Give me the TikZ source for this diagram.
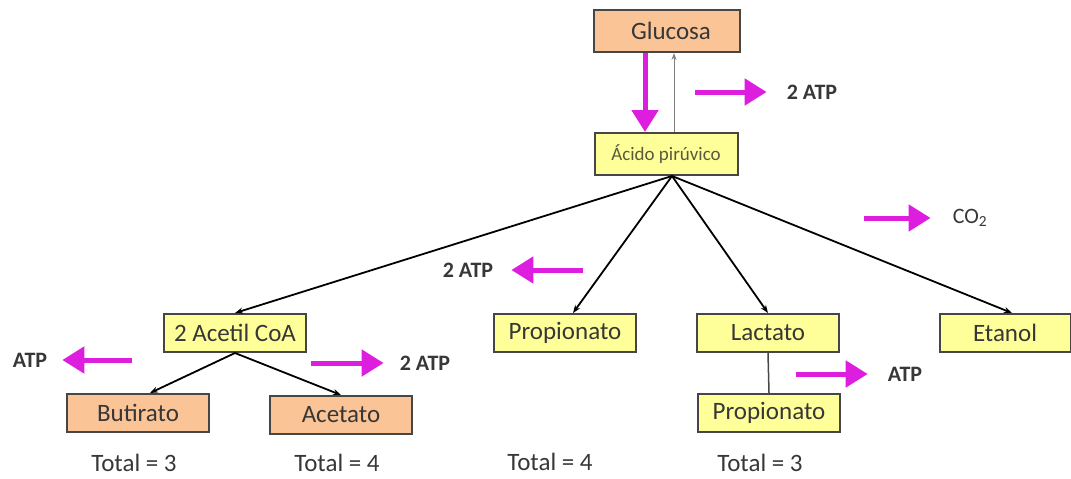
\documentclass[tikz,border=0pt]{standalone}
\usepackage{fontspec}
\setmainfont{Carlito}
\usetikzlibrary{arrows.meta}
\definecolor{boxyellow}{RGB}{255,255,153}
\definecolor{boxorange}{RGB}{250,196,150}
\definecolor{atpmagenta}{RGB}{222,30,222}
\definecolor{boxline}{RGB}{70,70,70}
\definecolor{txtgray}{RGB}{55,55,55}
\tikzstyle{yellowbox}=[draw=boxline,line width=2pt,fill=boxyellow,minimum width=142pt,minimum height=38pt,inner sep=2pt,text=txtgray,font=\fontsize{25}{28}\selectfont]
\tikzstyle{orangebox}=[yellowbox,fill=boxorange]
\tikzstyle{energy}=[atpmagenta,line width=5pt,-{Triangle[length=22pt,width=26pt]}]
\tikzstyle{branch}=[black,line width=1.8pt,-{Stealth[length=8pt,width=6pt]}]
\tikzstyle{gain}=[inner sep=0pt,text=txtgray,font=\bfseries\fontsize{22}{24}\selectfont]
\tikzstyle{total}=[inner sep=0pt,text=txtgray,font=\fontsize{25}{28}\selectfont]

\begin{document}
\begin{tikzpicture}[x=1pt,y=-1pt]
  \useasboundingbox (0,0) rectangle (1071,479);
  % boxes
  \node [orangebox,minimum width=146pt,minimum height=42pt] (glucosa) at (667,31) {\hspace{8pt}Glucosa};
  \node [yellowbox,minimum width=143pt,minimum height=42pt,font=\fontsize{19}{22}\selectfont,text={rgb,255:red,90;green,90;blue,60}] (acido) at (666,154) {Ácido pirúvico};
  \node [yellowbox] (acetil) at (235,333) {2 Acetil CoA};
  \node [yellowbox] (propA) at (565,333) {Propionato};
  \node [yellowbox] (lactato) at (768,333) {Lactato};
  \node [yellowbox,minimum width=131pt] (etanol) at (1005,333) {Etanol};
  \node [orangebox] (butirato) at (138,413) {Butirato};
  \node [orangebox] (acetato) at (341,415) {Acetato};
  \node [yellowbox] (propB) at (769,413) {Propionato};
  % totals
  \node [total] (totA) at (134,463) {Total = 3};
  \node [total] (totB) at (337,463) {Total = 4};
  \node [total] (totC) at (550,462) {Total = 4};
  \node [total] (totD) at (760,463) {Total = 3};
  % glucosa <-> acido
  \draw [energy] ([xshift=-22pt]glucosa.south) -- ([xshift=-21pt]acido.north);
  \draw [gray,line width=1pt,-{Stealth[open,length=7pt,width=5pt]}] ([xshift=8pt]acido.north) -- ([xshift=7pt]glucosa.south);
  % branches
  \draw [branch] ([xshift=6pt]acido.south) -- (acetil.north);
  \draw [branch] ([xshift=6pt]acido.south) -- ([xshift=8pt]propA.north);
  \draw [branch] ([xshift=6pt]acido.south) -- (lactato.north);
  \draw [branch] ([xshift=6pt]acido.south) -- ([xshift=7pt]etanol.north);
  \draw [branch] (acetil.south) -- ([xshift=12pt]butirato.north);
  \draw [branch] (acetil.south) -- (acetato.north);
  \draw [boxline,line width=1.5pt] (lactato.south) -- (propB.north);
  % energy yields
  \node [gain] (atpA) at (812,92) {2 ATP};
  \coordinate (eA) at (695,92);
  \draw [energy] (eA) -- ([xshift=-20pt]atpA.west);
  \node [gain,font=\fontsize{22}{24}\selectfont] (co2) at (970,218) {CO\textsubscript{2}};
  \coordinate (eB) at (864,218);
  \draw [energy] (eB) -- ([xshift=-22pt]co2.west);
  \node [gain] (atpB) at (468,270) {2 ATP};
  \coordinate (eC) at (583,270);
  \draw [energy] (eC) -- ([xshift=18pt]atpB.east);
  \node [gain] (atpC) at (30,360) {ATP};
  \coordinate (eD) at (132,360);
  \draw [energy] (eD) -- ([xshift=15pt]atpC.east);
  \node [gain] (atpD) at (425,363) {2 ATP};
  \coordinate (eE) at (311,363);
  \draw [energy] (eE) -- ([xshift=-16pt]atpD.west);
  \node [gain] (atpE) at (905,374) {ATP};
  \coordinate (eF) at (796,374);
  \draw [energy] (eF) -- ([xshift=-20pt]atpE.west);
\end{tikzpicture}
\end{document}
